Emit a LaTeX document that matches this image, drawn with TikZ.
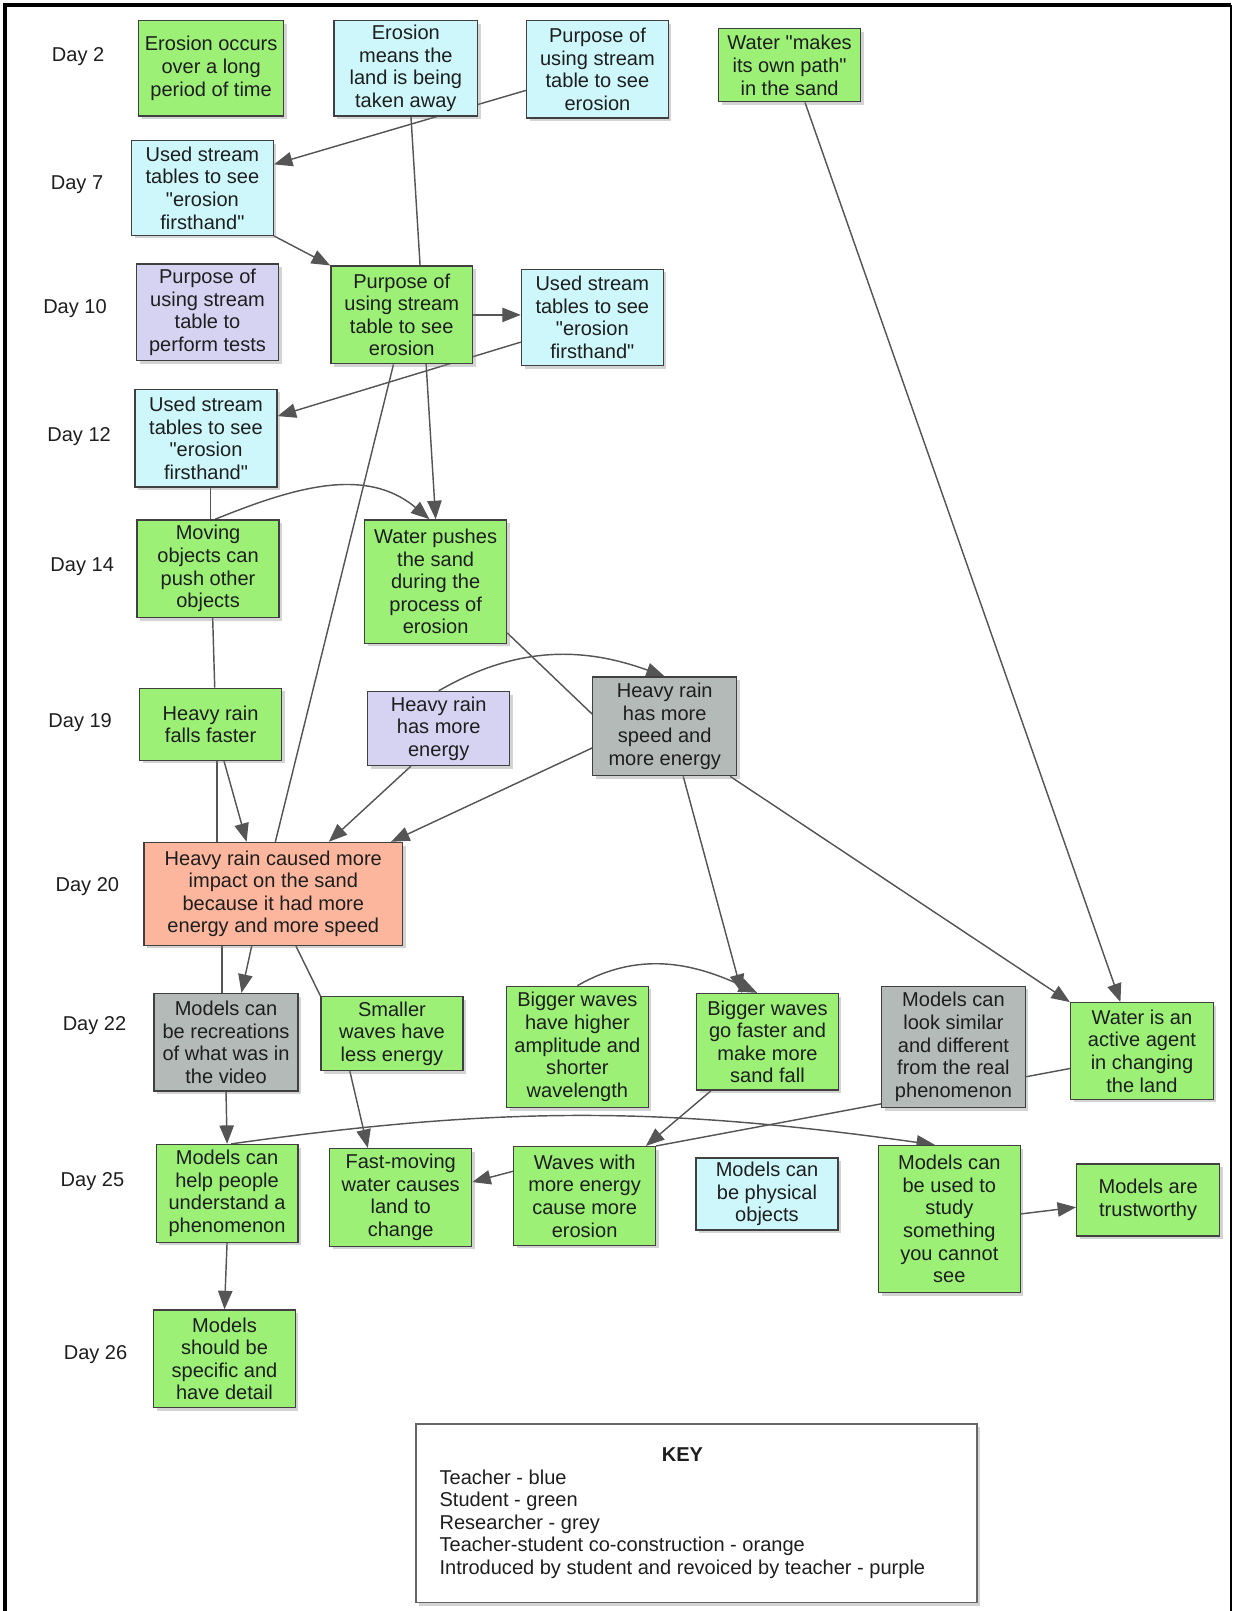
\documentclass[tikz,border=0pt]{standalone}
\usepackage{fontspec}
\setmainfont{Liberation Sans}[Ligatures=TeXOff]
\usepackage{tikz}
\usetikzlibrary{positioning}
\usetikzlibrary{shadows}
\usetikzlibrary{arrows.meta}

\definecolor{teacher}{RGB}{205,247,250}
\definecolor{student}{RGB}{156,240,118}
\definecolor{researcher}{RGB}{180,186,183}
\definecolor{coconstruct}{RGB}{251,182,157}
\definecolor{revoiced}{RGB}{214,211,242}
\definecolor{linkgrey}{RGB}{85,85,85}
\definecolor{textgrey}{RGB}{30,30,30}

\pgfdeclarelayer{links}
\pgfsetlayers{links,main}

\tikzset{
    txt/.style={font=\fontsize{19.5}{22}\selectfont, text=textgrey},
    concept/.style={txt, draw=black!75, line width=1.3pt, align=center,
        minimum width=138pt, minimum height=94pt, inner xsep=6pt, inner ysep=3pt,
        drop shadow={shadow xshift=3pt, shadow yshift=-3pt, opacity=0.35}},
    teacherbox/.style={concept, fill=teacher},
    studentbox/.style={concept, fill=student},
    researcherbox/.style={concept, fill=researcher},
    coconbox/.style={concept, fill=coconstruct},
    revoicedbox/.style={concept, fill=revoiced},
    keybox/.style={draw=black!60, line width=1.3pt, fill=white,
        minimum width=546pt, minimum height=174pt,
        drop shadow={shadow xshift=3pt, shadow yshift=-3pt, opacity=0.35}},
    link/.style={draw=linkgrey, line width=1.4pt},
    linkto/.style={link, -{Triangle[length=18pt, width=14pt]}},
}

\begin{document}
\begin{tikzpicture}[x=1pt, y=1pt]
    \useasboundingbox (0,0) rectangle (1200,-1568);
    \draw[line width=4pt] (5,-1568) -- (5,-5) -- (1198,-5);
    \draw[line width=1.5pt] (1198,-5) -- (1198,-1568);

    % days
    \node[txt] (day2) at (76,-55) {Day 2};
    \node[txt] (day7) at (75,-180) {Day 7};
    \node[txt] (day10) at (73,-300) {Day 10};
    \node[txt] (day12) at (77,-425) {Day 12};
    \node[txt] (day14) at (80,-552) {Day 14};
    \node[txt] (day19) at (78,-703) {Day 19};
    \node[txt] (day20) at (85,-863) {Day 20};
    \node[txt] (day22) at (92,-998) {Day 22};
    \node[txt] (day25) at (90,-1150) {Day 25};
    \node[txt] (day26) at (93,-1318) {Day 26};

    % ideas
    \node[studentbox, minimum height=93pt] (erosion2) at (205.5,-66.5) {Erosion occurs\\over a long\\period of time};
    \node[teacherbox, minimum width=140pt, minimum height=93pt] (means2) at (395,-66.5) {Erosion\\means the\\land is being\\taken away};
    \node[teacherbox, minimum height=95pt] (purpose2) at (581.5,-67.5) {Purpose of\\using stream\\table to see\\erosion};
    \node[studentbox, minimum height=71pt] (path2) at (768.5,-63.5) {Water "makes\\its own path"\\in the sand};

    \node[teacherbox, minimum height=92pt] (stream7) at (197,-183) {Used stream\\tables to see\\"erosion\\firsthand"};

    \node[revoicedbox] (tests10) at (202,-304) {Purpose of\\using stream\\table to\\perform tests};
    \node[studentbox, minimum height=95pt] (purpose10) at (391,-306.5) {Purpose of\\using stream\\table to see\\erosion};
    \node[teacherbox] (stream10) at (576.5,-309) {Used stream\\tables to see\\"erosion\\firsthand"};

    \node[teacherbox, minimum height=95pt] (stream12) at (200.5,-426.5) {Used stream\\tables to see\\"erosion\\firsthand"};

    \node[studentbox, minimum height=95pt] (moving14) at (202.5,-553.5) {Moving\\objects can\\push other\\objects};
    \node[studentbox, minimum height=120pt] (pushes14) at (424,-566) {Water pushes\\the sand\\during the\\process of\\erosion};

    \node[studentbox, minimum height=70pt] (faster19) at (205,-705) {Heavy rain\\falls faster};
    \node[revoicedbox, minimum height=72pt] (energy19) at (427,-709) {Heavy rain\\has more\\energy};
    \node[researcherbox, minimum width=140pt, minimum height=96pt] (speed19) at (647,-707) {Heavy rain\\has more\\speed and\\more energy};

    \node[coconbox, minimum width=252pt, minimum height=100pt] (impact20) at (266,-870) {Heavy rain caused more\\impact on the sand\\because it had more\\energy and more speed};

    \node[researcherbox, minimum width=140pt, minimum height=95pt] (video22) at (220,-1014.5) {Models can\\be recreations\\of what was in\\the video};
    \node[studentbox, minimum height=72pt] (smaller22) at (381.5,-1006) {Smaller\\waves have\\less energy};
    \node[studentbox, minimum height=118pt] (amplitude22) at (562,-1019) {Bigger waves\\have higher\\amplitude and\\shorter\\wavelength};
    \node[studentbox] (bigger22) at (747,-1014) {Bigger waves\\go faster and\\make more\\sand fall};
    \node[researcherbox, minimum width=140pt, minimum height=118pt] (similar22) at (928,-1019) {Models can\\look similar\\and different\\from the real\\phenomenon};
    \node[studentbox, minimum width=139pt] (agent22) at (1111.5,-1023) {Water is an\\active agent\\in changing\\the land};

    \node[studentbox, minimum height=95pt] (help25) at (221,-1161.5) {Models can\\help people\\understand a\\phenomenon};
    \node[studentbox, minimum height=95pt] (fastwater25) at (390,-1165.5) {Fast-moving\\water causes\\land to\\change};
    \node[studentbox, minimum height=96pt] (waves25) at (569,-1164) {Waves with\\more energy\\cause more\\erosion};
    \node[teacherbox, minimum height=70pt] (physical25) at (746.5,-1162) {Models can\\be physical\\objects};
    \node[studentbox, minimum height=143pt] (study25) at (924,-1186.5) {Models can\\be used to\\study\\something\\you cannot\\see};
    \node[studentbox, minimum width=139pt, minimum height=70pt] (trust25) at (1117.5,-1168) {Models are\\trustworthy};

    \node[studentbox, minimum height=95pt] (detail26) at (218.5,-1322.5) {Models\\should be\\specific and\\have detail};

    % key
    \node[keybox] (key) at (678,-1473) {};
    \node[txt, anchor=west] (keylist) at ([xshift=20pt]key.west) {\begin{tabular}{@{}l@{}}
        \multicolumn{1}{@{}c@{}}{\textbf{KEY}}\\
        Teacher - blue\\
        Student - green\\
        Researcher - grey\\
        Teacher-student co-construction - orange\\
        Introduced by student and revoiced by teacher - purple
    \end{tabular}};

    \begin{pgfonlayer}{links}
        \draw[linkto] ([yshift=-20.5pt]purpose2.west) -- ([yshift=23pt]stream7.east);
        \draw[linkto] ([xshift=5pt]means2.south) -- (pushes14.north);
        \draw[linkto] (stream7.south east) -- (purpose10.north west);
        \draw[linkto] (purpose10.east) -- (purpose10.east -| stream10.west);
        \draw[linkto] ([yshift=-24pt]stream10.west) -- ([yshift=21.5pt]stream12.east);
        \draw[link] ([xshift=-8pt]purpose10.south) -- ([xshift=2pt]impact20.north);
        \draw[link] ([xshift=4.5pt]stream12.south) -- ([xshift=2.5pt]moving14.north);
        \draw[linkto] ([xshift=7pt]moving14.north) to[out=22, in=140] ([xshift=-6pt]pushes14.north);
        \draw[link] ([xshift=4.5pt]moving14.south) -- ([xshift=4pt]faster19.north);
        \draw[link] ([xshift=6pt]faster19.south) -- ([xshift=-55pt]impact20.north);
        \draw[linkto] ([xshift=13pt]faster19.south) -- ([xshift=-26pt]impact20.north);
        \draw[linkto] ([xshift=-27pt]energy19.south) -- ([xshift=54pt]impact20.north);
        \draw[linkto] (energy19.north) to[out=30, in=160] (speed19.north);
        \draw[link] ([yshift=-50pt]pushes14.east) -- ([yshift=12pt]speed19.west);
        \draw[linkto] ([yshift=-21pt]speed19.west) -- ([xshift=-12pt]impact20.north east);
        \draw[linkto] ([xshift=18pt]speed19.south) -- ([xshift=-25pt]bigger22.north);
        \draw[linkto] ([xshift=-7pt]speed19.south east) -- (agent22.north west);
        \draw[linkto] ([xshift=15pt]path2.south) -- ([xshift=-21pt]agent22.north);
        \draw[linkto] (amplitude22.north) to[out=30, in=155] ([xshift=-10pt]bigger22.north);
        \draw[linkto] ([xshift=-21pt]impact20.south) -- ([xshift=15pt]video22.north);
        \draw[link] ([xshift=-50pt]impact20.south) -- ([xshift=-4pt]video22.north);
        \draw[linkto] (video22.south) -- (help25.north);
        \draw[link] ([xshift=22pt]impact20.south) -- (smaller22.north west);
        \draw[linkto] ([xshift=-41pt]smaller22.south) -- ([xshift=-32pt]fastwater25.north);
        \draw[linkto] ([xshift=-55pt]bigger22.south) -- ([xshift=-10pt]waves25.north east);
        \draw[link] ([yshift=-17pt]agent22.west) -- (waves25.north east);
        \draw[linkto] ([xshift=4pt]help25.north) to[out=8, in=172] ([xshift=-14pt]study25.north);
        \draw[linkto] ([yshift=24pt]waves25.west) -- ([yshift=15pt]fastwater25.east);
        \draw[linkto] ([yshift=5pt]study25.east) -- ([yshift=-7pt]trust25.west);
        \draw[linkto] (help25.south) -- (detail26.north);
    \end{pgfonlayer}
\end{tikzpicture}
\end{document}
